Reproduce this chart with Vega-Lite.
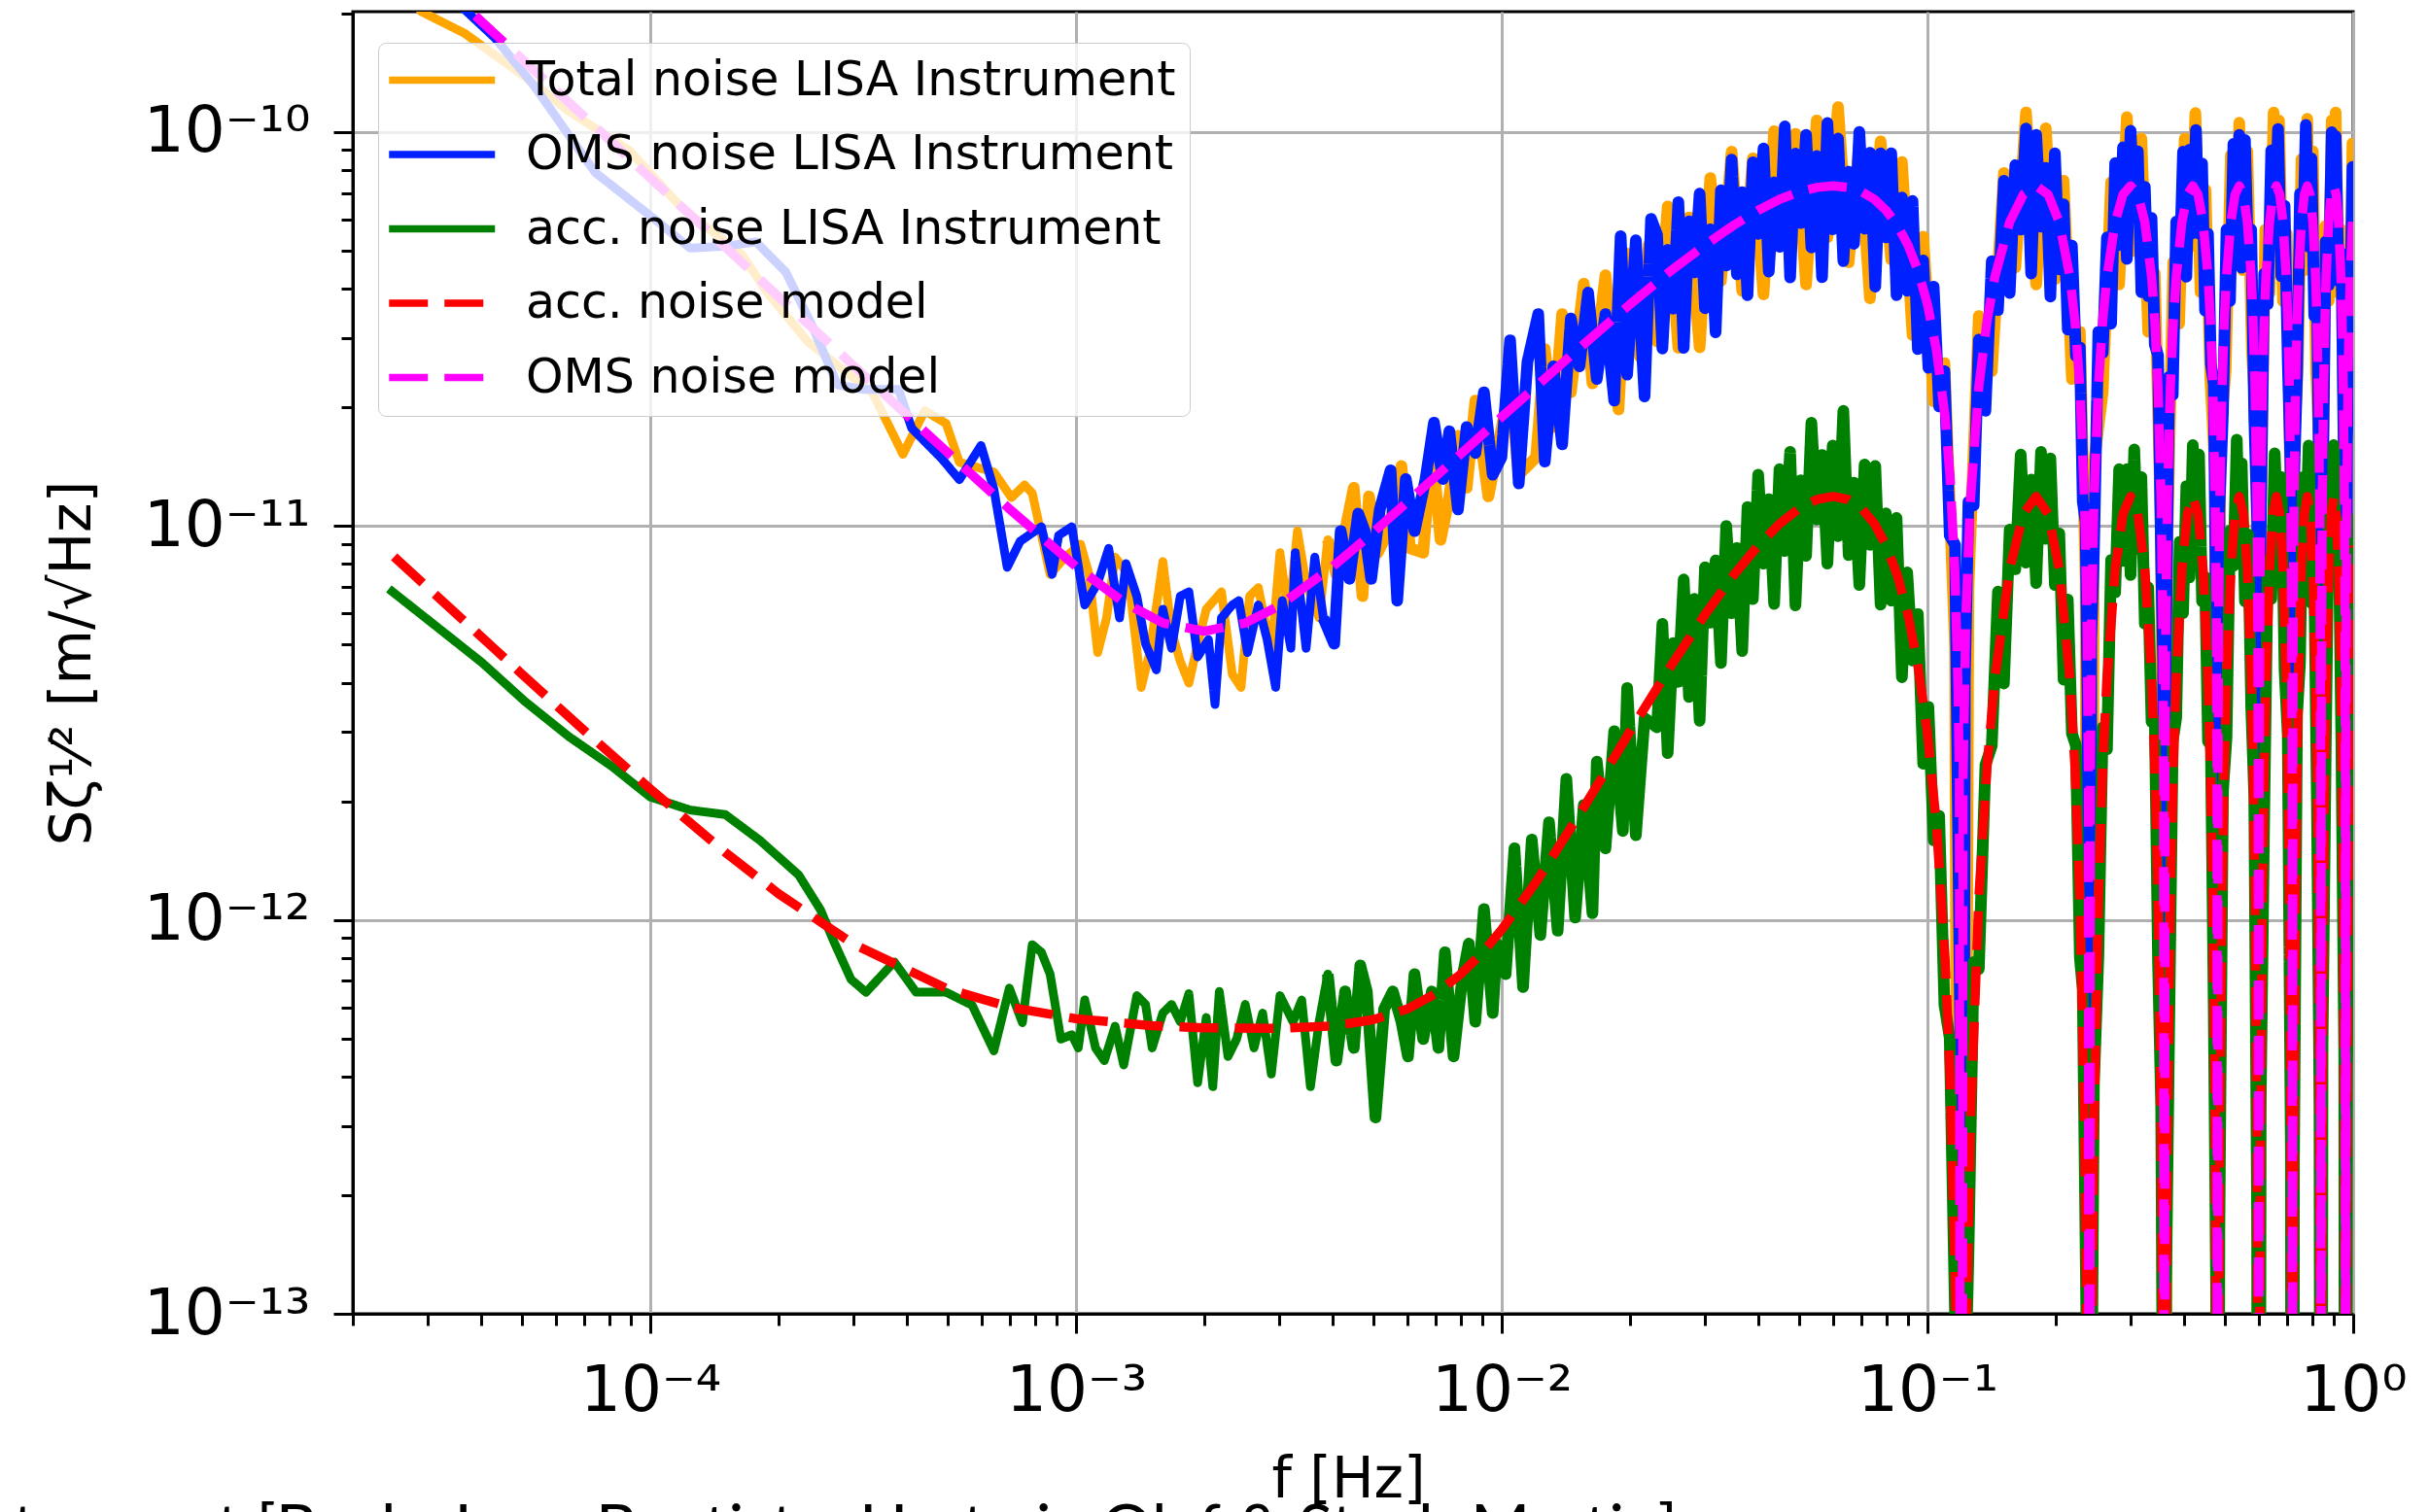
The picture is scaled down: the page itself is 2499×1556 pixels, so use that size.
{
"$schema":"https://vega.github.io/schema/vega-lite/v6.json",
"width":2058,"height":1340,
"autosize":{"type":"none"},
"padding":{"left":363,"top":12,"right":78,"bottom":204},
"background":"white",
"title":{"text":"LISA Instrument [Bayle Jean-Baptiste, Hartwig Olaf & Staab Martin]","orient":"bottom","anchor":"start","frame":"group","baseline":"top","offset":-9,"dx":-580,"fontSize":66,"font":"Lato","fontWeight":"normal","color":"black"},
"config":{
 "font":"DejaVu Sans",
 "view":{"stroke":"black","strokeWidth":3},
 "axis":{"domainColor":"black","domainWidth":3,"tickColor":"black","tickWidth":3,"labelFont":"DejaVu Sans","labelFontSize":66,"labelColor":"black","titleFont":"DejaVu Sans","titleFontSize":58,"titleFontWeight":"normal","titleColor":"black","gridColor":"#b0b0b0","gridWidth":3,"labelOverlap":false,"labelBound":false,"labelFlush":false}
},
"data":{"values":[
{"s":"T","f":2.5e-5,"v":2.45e-10},{"s":"T","f":2.9e-5,"v":2.02e-10},{"s":"T","f":3.66e-5,"v":1.78e-10},{"s":"T","f":5.08e-5,"v":1.38e-10},{"s":"T","f":6.43e-5,"v":1.13e-10},{"s":"T","f":8.93e-5,"v":8.97e-11},{"s":"T","f":1.18e-4,"v":6.45e-11},{"s":"T","f":1.64e-4,"v":4.88e-11},{"s":"T","f":1.89e-4,"v":3.89e-11},{"s":"T","f":2.34e-4,"v":2.94e-11},{"s":"T","f":3.33e-4,"v":2.17e-11},{"s":"T","f":3.92e-4,"v":1.52e-11},{"s":"T","f":4.41e-4,"v":1.96e-11},{"s":"T","f":4.95e-4,"v":1.82e-11},{"s":"T","f":5.32e-4,"v":1.45e-11},{"s":"T","f":6.41e-4,"v":1.37e-11},{"s":"T","f":7.05e-4,"v":1.18e-11},{"s":"T","f":7.57e-4,"v":1.27e-11},{"s":"T","f":7.89e-4,"v":1.21e-11},
{"s":"T","f":8.69e-4,"v":7.53e-12},{"s":"T","f":9.43e-4,"v":8.33e-12},{"s":"T","f":1.024e-3,"v":8.99e-12},{"s":"T","f":1.073e-3,"v":7.53e-12},{"s":"T","f":1.124e-3,"v":4.77e-12},{"s":"T","f":1.179e-3,"v":5.84e-12},{"s":"T","f":1.235e-3,"v":8.33e-12},{"s":"T","f":1.326e-3,"v":7.53e-12},{"s":"T","f":1.422e-3,"v":3.89e-12},{"s":"T","f":1.49e-3,"v":4.77e-12},{"s":"T","f":1.599e-3,"v":8.12e-12},{"s":"T","f":1.676e-3,"v":5.41e-12},{"s":"T","f":1.757e-3,"v":4.53e-12},{"s":"T","f":1.841e-3,"v":3.99e-12},{"s":"T","f":1.93e-3,"v":5.02e-12},{"s":"T","f":2.022e-3,"v":6.14e-12},{"s":"T","f":2.195e-3,"v":6.8e-12},{"s":"T","f":2.328e-3,"v":4.2e-12},{"s":"T","f":2.44e-3,"v":3.89e-12},{"s":"T","f":2.557e-3,"v":6.63e-12},{"s":"T","f":2.68e-3,"v":6.97e-12},{"s":"T","f":2.875e-3,"v":4.77e-12},{"s":"T","f":3.013e-3,"v":8.55e-12},{"s":"T","f":3.158e-3,"v":5.84e-12},{"s":"T","f":3.311e-3,"v":9.7e-12},{"s":"T","f":3.47e-3,"v":7.16e-12},{"s":"T","f":3.723e-3,"v":5.84e-12},{"s":"T","f":3.902e-3,"v":9.22e-12},{"s":"T","f":4.088e-3,"v":7.53e-12},{"s":"T","f":4.491e-3,"v":1.25e-11},{"s":"T","f":4.707e-3,"v":6.63e-12},{"s":"T","f":4.876e-3,"v":1.188e-11},{"s":"T","f":5.11e-3,"v":8.55e-12},{"s":"T","f":5.42e-3,"v":9.7e-12},{"s":"T","f":5.81e-3,"v":1.419e-11},{"s":"T","f":6.09e-3,"v":8.77e-12},{"s":"T","f":6.54e-3,"v":8.55e-12},{"s":"T","f":6.85e-3,"v":1.611e-11},{"s":"T","f":7.18e-3,"v":9.22e-12},{"s":"T","f":7.53e-3,"v":1.188e-11},{"s":"T","f":7.89e-3,"v":1.694e-11},{"s":"T","f":8.27e-3,"v":1.25e-11},{"s":"T","f":8.67e-3,"v":2.08e-11},{"s":"T","f":9.3e-3,"v":1.188e-11},{"s":"T","f":9.74e-3,"v":1.531e-11},{"s":"T","f":1.046e-2,"v":2.3e-11},{"s":"T","f":1.096e-2,"v":1.349e-11},{"s":"T","f":1.204e-2,"v":1.493e-11},{"s":"T","f":1.262e-2,"v":2.81e-11},{"s":"T","f":1.322e-2,"v":1.782e-11},{"s":"T","f":1.386e-2,"v":3.45e-11},{"s":"T","f":1.453e-2,"v":2.184e-11},{"s":"T","f":1.558e-2,"v":4.12e-11},{"s":"T","f":1.633e-2,"v":2.3e-11},{"s":"T","f":1.752e-2,"v":4.33e-11},{"s":"T","f":1.88e-2,"v":1.974e-11},{"s":"T","f":1.97e-2,"v":4.91e-11},{"s":"T","f":2.113e-2,"v":2.68e-11},{"s":"T","f":2.215e-2,"v":5.17e-11},
{"s":"T","f":0.02316,"v":2.94e-11},{"s":"T","f":0.02453,"v":6.47e-11},{"s":"T","f":0.02599,"v":2.83e-11},{"s":"T","f":0.02753,"v":6.07e-11},{"s":"T","f":0.02916,"v":2.84e-11},{"s":"T","f":0.03089,"v":7.64e-11},{"s":"T","f":0.03272,"v":4.19e-11},{"s":"T","f":0.03466,"v":8.91e-11},{"s":"T","f":0.03671,"v":3.95e-11},{"s":"T","f":0.03889,"v":8.57e-11},{"s":"T","f":0.04119,"v":3.87e-11},{"s":"T","f":0.04363,"v":1.005e-10},{"s":"T","f":0.04622,"v":5.42e-11},{"s":"T","f":0.04896,"v":9.89e-11},{"s":"T","f":0.05186,"v":4.1e-11},{"s":"T","f":0.05493,"v":1.069e-10},{"s":"T","f":0.05819,"v":5.41e-11},{"s":"T","f":0.06164,"v":1.156e-10},{"s":"T","f":0.06529,"v":4.67e-11},{"s":"T","f":0.06916,"v":9.35e-11},{"s":"T","f":0.07326,"v":3.78e-11},{"s":"T","f":0.0776,"v":9.46e-11},{"s":"T","f":0.0822,"v":4.74e-11},{"s":"T","f":0.08707,"v":8.39e-11},{"s":"T","f":0.09223,"v":3.05e-11},{"s":"T","f":0.0977,"v":5.42e-11},{"s":"T","f":0.1034,"v":2.07e-11},{"s":"T","f":0.1096,"v":2.59e-11},{"s":"T","f":0.1161,"v":4.92e-12},{"s":"T","f":0.12,"v":1e-16},
{"s":"T","f":0.1248,"v":6.93e-12},{"s":"T","f":0.132,"v":3.41e-11},{"s":"T","f":0.1416,"v":2.47e-11},{"s":"T","f":0.1512,"v":7.87e-11},{"s":"T","f":0.1608,"v":4.53e-11},{"s":"T","f":0.1704,"v":1.12e-10},{"s":"T","f":0.18,"v":4.1e-11},{"s":"T","f":0.1896,"v":1.022e-10},{"s":"T","f":0.1992,"v":4.23e-11},{"s":"T","f":0.2088,"v":7.52e-11},{"s":"T","f":0.2184,"v":2.36e-11},{"s":"T","f":0.228,"v":3.11e-11},{"s":"T","f":0.2352,"v":7.26e-12},{"s":"T","f":0.24,"v":1e-16},
{"s":"T","f":0.246,"v":1.436e-11},{"s":"T","f":0.258,"v":2.19e-11},{"s":"T","f":0.27,"v":7.46e-11},{"s":"T","f":0.282,"v":4.1e-11},{"s":"T","f":0.294,"v":1.091e-10},{"s":"T","f":0.306,"v":4.99e-11},{"s":"T","f":0.318,"v":9.62e-11},{"s":"T","f":0.33,"v":3.11e-11},{"s":"T","f":0.342,"v":4.37e-11},{"s":"T","f":0.354,"v":9.06e-12},{"s":"T","f":0.36,"v":1e-16},
{"s":"T","f":0.366,"v":9.06e-12},{"s":"T","f":0.378,"v":4.68e-11},{"s":"T","f":0.39,"v":3.26e-11},{"s":"T","f":0.402,"v":9.62e-11},{"s":"T","f":0.414,"v":5.11e-11},{"s":"T","f":0.426,"v":1.117e-10},{"s":"T","f":0.438,"v":3.92e-11},{"s":"T","f":0.45,"v":7.13e-11},{"s":"T","f":0.462,"v":2.34e-11},{"s":"T","f":0.474,"v":1.371e-11},{"s":"T","f":0.48,"v":1e-16},
{"s":"T","f":0.4872,"v":1.722e-11},{"s":"T","f":0.5016,"v":2.47e-11},{"s":"T","f":0.516,"v":8.73e-11},{"s":"T","f":0.5304,"v":4.67e-11},{"s":"T","f":0.54,"v":1.055e-10},{"s":"T","f":0.5496,"v":4.46e-11},{"s":"T","f":0.564,"v":8.93e-11},{"s":"T","f":0.5784,"v":2.77e-11},{"s":"T","f":0.5928,"v":1.722e-11},{"s":"T","f":0.6,"v":1e-16},
{"s":"T","f":0.6072,"v":1.087e-11},{"s":"T","f":0.6216,"v":5.65e-11},{"s":"T","f":0.636,"v":3.9e-11},{"s":"T","f":0.6504,"v":1.12e-10},{"s":"T","f":0.66,"v":5.17e-11},{"s":"T","f":0.6696,"v":1.07e-10},{"s":"T","f":0.684,"v":3.72e-11},{"s":"T","f":0.6984,"v":5.52e-11},{"s":"T","f":0.7128,"v":1.087e-11},{"s":"T","f":0.72,"v":1e-16},
{"s":"T","f":0.7272,"v":1.645e-11},{"s":"T","f":0.7416,"v":2.58e-11},{"s":"T","f":0.756,"v":8.53e-11},{"s":"T","f":0.7704,"v":4.46e-11},{"s":"T","f":0.78,"v":1.08e-10},{"s":"T","f":0.7896,"v":4.89e-11},{"s":"T","f":0.804,"v":8.93e-11},{"s":"T","f":0.8184,"v":2.47e-11},{"s":"T","f":0.8328,"v":1.535e-11},{"s":"T","f":0.84,"v":1e-16},
{"s":"T","f":0.8472,"v":1.138e-11},{"s":"T","f":0.8616,"v":5.78e-11},{"s":"T","f":0.876,"v":3.72e-11},{"s":"T","f":0.8904,"v":1.07e-10},{"s":"T","f":0.9,"v":5.17e-11},{"s":"T","f":0.9096,"v":1.12e-10},{"s":"T","f":0.924,"v":3.9e-11},{"s":"T","f":0.9384,"v":5.65e-11},{"s":"T","f":0.9528,"v":1.087e-11},{"s":"T","f":0.96,"v":1e-16},
{"s":"T","f":0.9672,"v":1.722e-11},{"s":"T","f":0.9816,"v":2.58e-11},{"s":"T","f":0.996,"v":9.36e-11},{"s":"T","f":1.0,"v":5.02e-11},

{"s":"O","f":3.0e-5,"v":2.5e-10},{"s":"O","f":4.32e-5,"v":1.73e-10},{"s":"O","f":5.33e-5,"v":1.31e-10},{"s":"O","f":7.41e-5,"v":7.9e-11},{"s":"O","f":1.03e-4,"v":5.97e-11},{"s":"O","f":1.24e-4,"v":5.07e-11},{"s":"O","f":1.5e-4,"v":5.13e-11},{"s":"O","f":1.77e-4,"v":5.26e-11},{"s":"O","f":2.08e-4,"v":4.41e-11},{"s":"O","f":2.39e-4,"v":3.25e-11},{"s":"O","f":2.75e-4,"v":2.28e-11},{"s":"O","f":3.17e-4,"v":2.22e-11},{"s":"O","f":3.83e-4,"v":2.22e-11},{"s":"O","f":4.11e-4,"v":1.77e-11},{"s":"O","f":4.84e-4,"v":1.48e-11},{"s":"O","f":5.32e-4,"v":1.31e-11},{"s":"O","f":5.98e-4,"v":1.6e-11},{"s":"O","f":6.41e-4,"v":1.24e-11},{"s":"O","f":6.89e-4,"v":7.85e-12},{"s":"O","f":7.39e-4,"v":9.14e-12},{"s":"O","f":7.89e-4,"v":9.6e-12},
{"s":"O","f":8.29e-4,"v":9.95e-12},{"s":"O","f":8.79e-4,"v":7.53e-12},{"s":"O","f":9.1e-4,"v":9.46e-12},{"s":"O","f":9.77e-4,"v":9.95e-12},{"s":"O","f":1.048e-3,"v":6.3e-12},{"s":"O","f":1.124e-3,"v":7.16e-12},{"s":"O","f":1.193e-3,"v":8.77e-12},{"s":"O","f":1.265e-3,"v":5.84e-12},{"s":"O","f":1.31e-3,"v":8.02e-12},{"s":"O","f":1.389e-3,"v":6.63e-12},{"s":"O","f":1.456e-3,"v":5.02e-12},{"s":"O","f":1.544e-3,"v":4.31e-12},{"s":"O","f":1.599e-3,"v":6.14e-12},{"s":"O","f":1.676e-3,"v":4.89e-12},{"s":"O","f":1.757e-3,"v":6.63e-12},{"s":"O","f":1.841e-3,"v":6.8e-12},{"s":"O","f":1.93e-3,"v":4.65e-12},{"s":"O","f":2.046e-3,"v":5.15e-12},{"s":"O","f":2.12e-3,"v":3.52e-12},{"s":"O","f":2.195e-3,"v":5.84e-12},{"s":"O","f":2.328e-3,"v":6.3e-12},{"s":"O","f":2.412e-3,"v":6.46e-12},{"s":"O","f":2.527e-3,"v":4.77e-12},{"s":"O","f":2.68e-3,"v":6.3e-12},{"s":"O","f":2.81e-3,"v":5.15e-12},{"s":"O","f":2.943e-3,"v":3.89e-12},{"s":"O","f":3.05e-3,"v":6.46e-12},{"s":"O","f":3.196e-3,"v":4.89e-12},{"s":"O","f":3.272e-3,"v":8.55e-12},{"s":"O","f":3.47e-3,"v":4.89e-12},{"s":"O","f":3.637e-3,"v":8.33e-12},{"s":"O","f":3.81e-3,"v":5.84e-12},{"s":"O","f":4.04e-3,"v":5.02e-12},{"s":"O","f":4.184e-3,"v":9.7e-12},{"s":"O","f":4.386e-3,"v":7.34e-12},{"s":"O","f":4.6e-3,"v":1.074e-11},{"s":"O","f":4.764e-3,"v":9.7e-12},{"s":"O","f":4.934e-3,"v":7.34e-12},{"s":"O","f":5.17e-3,"v":1.101e-11},{"s":"O","f":5.48e-3,"v":1.384e-11},{"s":"O","f":5.68e-3,"v":6.46e-12},{"s":"O","f":5.95e-3,"v":1.315e-11},{"s":"O","f":6.24e-3,"v":9.7e-12},{"s":"O","f":6.62e-3,"v":1.315e-11},{"s":"O","f":6.93e-3,"v":1.829e-11},{"s":"O","f":7.27e-3,"v":1.315e-11},{"s":"O","f":7.53e-3,"v":1.738e-11},{"s":"O","f":7.89e-3,"v":1.101e-11},{"s":"O","f":8.27e-3,"v":1.782e-11},{"s":"O","f":8.67e-3,"v":1.531e-11},{"s":"O","f":9.08e-3,"v":2.184e-11},{"s":"O","f":9.52e-3,"v":1.349e-11},{"s":"O","f":9.98e-3,"v":1.493e-11},{"s":"O","f":1.046e-2,"v":2.96e-11},{"s":"O","f":1.096e-2,"v":1.282e-11},{"s":"O","f":1.149e-2,"v":2.61e-11},{"s":"O","f":1.218e-2,"v":3.45e-11},{"s":"O","f":1.262e-2,"v":1.456e-11},{"s":"O","f":1.322e-2,"v":2.54e-11},{"s":"O","f":1.386e-2,"v":1.61e-11},{"s":"O","f":1.453e-2,"v":3.36e-11},{"s":"O","f":1.522e-2,"v":2.54e-11},{"s":"O","f":1.595e-2,"v":3.91e-11},{"s":"O","f":1.672e-2,"v":2.36e-11},{"s":"O","f":1.752e-2,"v":3.45e-11},{"s":"O","f":1.837e-2,"v":2.08e-11},{"s":"O","f":1.902e-2,"v":5.44e-11},{"s":"O","f":1.97e-2,"v":2.42e-11},{"s":"O","f":2.065e-2,"v":5.31e-11},{"s":"O","f":2.165e-2,"v":2.13e-11},{"s":"O","f":2.242e-2,"v":6.02e-11},
{"s":"O","f":0.02316,"v":5.48e-11},{"s":"O","f":0.02384,"v":2.82e-11},{"s":"O","f":0.02453,"v":5.02e-11},{"s":"O","f":0.02525,"v":3.56e-11},{"s":"O","f":0.02599,"v":6.64e-11},{"s":"O","f":0.02675,"v":2.83e-11},{"s":"O","f":0.02753,"v":5.93e-11},{"s":"O","f":0.02833,"v":4.4e-11},{"s":"O","f":0.02916,"v":6.97e-11},{"s":"O","f":0.03001,"v":3.57e-11},{"s":"O","f":0.03089,"v":5.66e-11},{"s":"O","f":0.03179,"v":3.1e-11},{"s":"O","f":0.03272,"v":7.11e-11},{"s":"O","f":0.03367,"v":4.58e-11},{"s":"O","f":0.03466,"v":8.51e-11},{"s":"O","f":0.03567,"v":4.35e-11},{"s":"O","f":0.03671,"v":7.03e-11},{"s":"O","f":0.03778,"v":3.85e-11},{"s":"O","f":0.03889,"v":8.38e-11},{"s":"O","f":0.04002,"v":5.51e-11},{"s":"O","f":0.04119,"v":9.08e-11},{"s":"O","f":0.04239,"v":4.42e-11},{"s":"O","f":0.04363,"v":7.45e-11},{"s":"O","f":0.04491,"v":5.11e-11},{"s":"O","f":0.04622,"v":1.033e-10},{"s":"O","f":0.04757,"v":4.27e-11},{"s":"O","f":0.04896,"v":8.81e-11},{"s":"O","f":0.05039,"v":5.87e-11},{"s":"O","f":0.05186,"v":9.84e-11},{"s":"O","f":0.05337,"v":5.09e-11},{"s":"O","f":0.05493,"v":8.69e-11},{"s":"O","f":0.05654,"v":4.28e-11},{"s":"O","f":0.05819,"v":1.054e-10},{"s":"O","f":0.05989,"v":5.66e-11},{"s":"O","f":0.06164,"v":9.62e-11},{"s":"O","f":0.06344,"v":4.7e-11},{"s":"O","f":0.06529,"v":7.93e-11},{"s":"O","f":0.0672,"v":5.2e-11},{"s":"O","f":0.06916,"v":1.0e-10},{"s":"O","f":0.07118,"v":5.68e-11},{"s":"O","f":0.07326,"v":8.85e-11},{"s":"O","f":0.0754,"v":4.05e-11},{"s":"O","f":0.0776,"v":8.83e-11},{"s":"O","f":0.07987,"v":5.4e-11},{"s":"O","f":0.0822,"v":8.83e-11},{"s":"O","f":0.0846,"v":3.85e-11},{"s":"O","f":0.08707,"v":6.82e-11},{"s":"O","f":0.08961,"v":3.95e-11},{"s":"O","f":0.09223,"v":6.68e-11},{"s":"O","f":0.09492,"v":2.81e-11},{"s":"O","f":0.0977,"v":4.72e-11},{"s":"O","f":0.1005,"v":2.52e-11},{"s":"O","f":0.1034,"v":4.05e-11},{"s":"O","f":0.1065,"v":2.01e-11},{"s":"O","f":0.1096,"v":2.47e-11},{"s":"O","f":0.1128,"v":9.46e-12},{"s":"O","f":0.1161,"v":8.95e-12},{"s":"O","f":0.1195,"v":4.79e-13},{"s":"O","f":0.12,"v":1e-16},
{"s":"O","f":0.1224,"v":4.08e-12},{"s":"O","f":0.1248,"v":1.151e-11},{"s":"O","f":0.1284,"v":1.127e-11},{"s":"O","f":0.132,"v":2.97e-11},{"s":"O","f":0.1368,"v":1.96e-11},{"s":"O","f":0.1416,"v":4.7e-11},{"s":"O","f":0.1464,"v":3.53e-11},{"s":"O","f":0.1512,"v":7.52e-11},{"s":"O","f":0.156,"v":3.9e-11},{"s":"O","f":0.1608,"v":8.24e-11},{"s":"O","f":0.1656,"v":5.65e-11},{"s":"O","f":0.1704,"v":1.021e-10},{"s":"O","f":0.1752,"v":4.37e-11},{"s":"O","f":0.18,"v":9.84e-11},{"s":"O","f":0.1848,"v":5.75e-11},{"s":"O","f":0.1896,"v":8.11e-11},{"s":"O","f":0.1944,"v":3.82e-11},{"s":"O","f":0.1992,"v":8.83e-11},{"s":"O","f":0.204,"v":4.48e-11},{"s":"O","f":0.2088,"v":6.55e-11},{"s":"O","f":0.2136,"v":3.15e-11},{"s":"O","f":0.2184,"v":5.15e-11},{"s":"O","f":0.2232,"v":2.7e-11},{"s":"O","f":0.228,"v":2.84e-11},{"s":"O","f":0.2316,"v":1.153e-11},{"s":"O","f":0.2352,"v":1.026e-11},{"s":"O","f":0.2376,"v":3.64e-12},{"s":"O","f":0.24,"v":1e-16},
{"s":"O","f":0.2424,"v":5.14e-12},{"s":"O","f":0.246,"v":8.65e-12},{"s":"O","f":0.252,"v":3.11e-11},{"s":"O","f":0.258,"v":2.75e-11},{"s":"O","f":0.264,"v":5.4e-11},{"s":"O","f":0.27,"v":3.26e-11},{"s":"O","f":0.276,"v":8.34e-11},{"s":"O","f":0.282,"v":5.16e-11},{"s":"O","f":0.288,"v":9.14e-11},{"s":"O","f":0.294,"v":4.76e-11},{"s":"O","f":0.3,"v":1.007e-10},{"s":"O","f":0.306,"v":6.14e-11},{"s":"O","f":0.312,"v":8.93e-11},{"s":"O","f":0.318,"v":3.92e-11},{"s":"O","f":0.324,"v":7.26e-11},{"s":"O","f":0.33,"v":3.83e-11},{"s":"O","f":0.336,"v":6.05e-11},{"s":"O","f":0.342,"v":2.88e-11},{"s":"O","f":0.348,"v":2.71e-11},{"s":"O","f":0.354,"v":8.07e-12},{"s":"O","f":0.3576,"v":4.58e-12},{"s":"O","f":0.36,"v":1e-16},
{"s":"O","f":0.3636,"v":5.46e-12},{"s":"O","f":0.3696,"v":2.39e-11},{"s":"O","f":0.3768,"v":2.15e-11},{"s":"O","f":0.384,"v":5.92e-11},{"s":"O","f":0.3912,"v":4.53e-11},{"s":"O","f":0.3984,"v":8.91e-11},{"s":"O","f":0.4056,"v":4.29e-11},{"s":"O","f":0.4128,"v":9.02e-11},{"s":"O","f":0.42,"v":5.53e-11},{"s":"O","f":0.4272,"v":1.012e-10},{"s":"O","f":0.4344,"v":5.52e-11},{"s":"O","f":0.4416,"v":8.32e-11},{"s":"O","f":0.4488,"v":3.52e-11},{"s":"O","f":0.456,"v":5.52e-11},{"s":"O","f":0.4632,"v":2.58e-11},{"s":"O","f":0.4704,"v":2.29e-11},{"s":"O","f":0.4764,"v":5.46e-12},{"s":"O","f":0.48,"v":1e-16},
{"s":"O","f":0.4848,"v":1.099e-11},{"s":"O","f":0.4944,"v":1.945e-11},{"s":"O","f":0.504,"v":5.65e-11},{"s":"O","f":0.5136,"v":3.72e-11},{"s":"O","f":0.5232,"v":9.33e-11},{"s":"O","f":0.5328,"v":5.69e-11},{"s":"O","f":0.54,"v":9.84e-11},{"s":"O","f":0.5472,"v":4.52e-11},{"s":"O","f":0.5568,"v":9.55e-11},{"s":"O","f":0.5664,"v":4.68e-11},{"s":"O","f":0.576,"v":5.65e-11},{"s":"O","f":0.5856,"v":1.901e-11},{"s":"O","f":0.5952,"v":1.026e-11},{"s":"O","f":0.6,"v":1e-16},
{"s":"O","f":0.606,"v":9.49e-12},{"s":"O","f":0.618,"v":4.37e-11},{"s":"O","f":0.63,"v":3.66e-11},{"s":"O","f":0.642,"v":8.98e-11},{"s":"O","f":0.654,"v":5.47e-11},{"s":"O","f":0.666,"v":1.018e-10},{"s":"O","f":0.678,"v":4.3e-11},{"s":"O","f":0.69,"v":6.5e-11},{"s":"O","f":0.702,"v":2.63e-11},{"s":"O","f":0.714,"v":1.31e-11},{"s":"O","f":0.72,"v":1e-16},
{"s":"O","f":0.726,"v":1.31e-11},{"s":"O","f":0.738,"v":2.4e-11},{"s":"O","f":0.75,"v":6.97e-11},{"s":"O","f":0.762,"v":5.16e-11},{"s":"O","f":0.774,"v":1.042e-10},{"s":"O","f":0.786,"v":5.11e-11},{"s":"O","f":0.798,"v":8.57e-11},{"s":"O","f":0.81,"v":3.41e-11},{"s":"O","f":0.822,"v":4.17e-11},{"s":"O","f":0.834,"v":9.49e-12},{"s":"O","f":0.84,"v":1e-16},
{"s":"O","f":0.8472,"v":1.087e-11},{"s":"O","f":0.8616,"v":5.27e-11},{"s":"O","f":0.876,"v":4.08e-11},{"s":"O","f":0.8904,"v":9.99e-11},{"s":"O","f":0.9,"v":5.53e-11},{"s":"O","f":0.9096,"v":9.76e-11},{"s":"O","f":0.924,"v":4.18e-11},{"s":"O","f":0.9384,"v":4.92e-11},{"s":"O","f":0.9528,"v":1.219e-11},{"s":"O","f":0.96,"v":1e-16},
{"s":"O","f":0.9672,"v":1.645e-11},{"s":"O","f":0.9816,"v":2.97e-11},{"s":"O","f":0.996,"v":8.15e-11},{"s":"O","f":1.0,"v":5.63e-11},

{"s":"A","f":2.43e-5,"v":6.92e-12},{"s":"A","f":3.18e-5,"v":5.5e-12},{"s":"A","f":4.02e-5,"v":4.5e-12},{"s":"A","f":5.08e-5,"v":3.58e-12},{"s":"A","f":6.43e-5,"v":2.92e-12},{"s":"A","f":8.13e-5,"v":2.45e-12},{"s":"A","f":1e-4,"v":2.05e-12},{"s":"A","f":1.24e-4,"v":1.9e-12},{"s":"A","f":1.5e-4,"v":1.85e-12},{"s":"A","f":1.81e-4,"v":1.59e-12},{"s":"A","f":2.23e-4,"v":1.3e-12},{"s":"A","f":2.51e-4,"v":1.06e-12},{"s":"A","f":2.69e-4,"v":8.87e-13},{"s":"A","f":2.96e-4,"v":7.06e-13},{"s":"A","f":3.21e-4,"v":6.55e-13},{"s":"A","f":3.74e-4,"v":7.82e-13},{"s":"A","f":4.21e-4,"v":6.55e-13},{"s":"A","f":4.95e-4,"v":6.55e-13},{"s":"A","f":5.7e-4,"v":6.07e-13},{"s":"A","f":6.41e-4,"v":4.65e-13},{"s":"A","f":6.97e-4,"v":6.71e-13},{"s":"A","f":7.48e-4,"v":5.48e-13},{"s":"A","f":7.89e-4,"v":8.65e-13},
{"s":"A","f":8.29e-4,"v":8.27e-13},{"s":"A","f":8.69e-4,"v":7.28e-13},{"s":"A","f":9.21e-4,"v":4.98e-13},{"s":"A","f":9.77e-4,"v":5.11e-13},{"s":"A","f":1.012e-3,"v":4.73e-13},{"s":"A","f":1.048e-3,"v":6.26e-13},{"s":"A","f":1.111e-3,"v":4.73e-13},{"s":"A","f":1.165e-3,"v":4.39e-13},{"s":"A","f":1.235e-3,"v":5.37e-13},{"s":"A","f":1.294e-3,"v":4.28e-13},{"s":"A","f":1.389e-3,"v":6.42e-13},{"s":"A","f":1.456e-3,"v":6.1e-13},{"s":"A","f":1.509e-3,"v":4.73e-13},{"s":"A","f":1.599e-3,"v":5.8e-13},{"s":"A","f":1.676e-3,"v":6.1e-13},{"s":"A","f":1.757e-3,"v":5.51e-13},{"s":"A","f":1.841e-3,"v":6.5e-13},{"s":"A","f":1.93e-3,"v":3.86e-13},{"s":"A","f":2.022e-3,"v":5.65e-13},{"s":"A","f":2.095e-3,"v":3.77e-13},{"s":"A","f":2.17e-3,"v":6.58e-13},{"s":"A","f":2.274e-3,"v":4.5e-13},{"s":"A","f":2.383e-3,"v":4.98e-13},{"s":"A","f":2.497e-3,"v":6.1e-13},{"s":"A","f":2.618e-3,"v":4.73e-13},{"s":"A","f":2.743e-3,"v":5.8e-13},{"s":"A","f":2.875e-3,"v":4.06e-13},{"s":"A","f":3.013e-3,"v":6.42e-13},{"s":"A","f":3.233e-3,"v":5.51e-13},{"s":"A","f":3.389e-3,"v":6.26e-13},{"s":"A","f":3.552e-3,"v":3.77e-13},{"s":"A","f":3.723e-3,"v":5.51e-13},{"s":"A","f":3.902e-3,"v":7.28e-13},{"s":"A","f":4.088e-3,"v":4.39e-13},{"s":"A","f":4.285e-3,"v":6.58e-13},{"s":"A","f":4.491e-3,"v":4.73e-13},{"s":"A","f":4.652e-3,"v":7.66e-13},{"s":"A","f":4.819e-3,"v":6.58e-13},{"s":"A","f":5.05e-3,"v":3.15e-13},{"s":"A","f":5.293e-3,"v":5.94e-13},{"s":"A","f":5.547e-3,"v":6.58e-13},{"s":"A","f":5.813e-3,"v":5.51e-13},{"s":"A","f":6.021e-3,"v":4.5e-13},{"s":"A","f":6.237e-3,"v":7.28e-13},{"s":"A","f":6.537e-3,"v":4.98e-13},{"s":"A","f":6.851e-3,"v":6.58e-13},{"s":"A","f":7.097e-3,"v":4.73e-13},{"s":"A","f":7.352e-3,"v":8.27e-13},{"s":"A","f":7.705e-3,"v":4.5e-13},{"s":"A","f":8.075e-3,"v":7.1e-13},{"s":"A","f":8.364e-3,"v":8.7e-13},{"s":"A","f":8.665e-3,"v":5.51e-13},{"s":"A","f":9.08e-3,"v":1.065e-12},{"s":"A","f":9.52e-3,"v":5.8e-13},{"s":"A","f":9.74e-3,"v":8.7e-13},{"s":"A","f":1.021e-2,"v":7.28e-13},{"s":"A","f":1.071e-2,"v":1.519e-12},{"s":"A","f":1.122e-2,"v":6.75e-13},{"s":"A","f":1.176e-2,"v":1.598e-12},{"s":"A","f":1.232e-2,"v":9.15e-13},{"s":"A","f":1.291e-2,"v":1.769e-12},{"s":"A","f":1.353e-2,"v":9.38e-13},{"s":"A","f":1.418e-2,"v":2.28e-12},{"s":"A","f":1.487e-2,"v":1.013e-12},{"s":"A","f":1.558e-2,"v":1.957e-12},{"s":"A","f":1.633e-2,"v":1.039e-12},{"s":"A","f":1.672e-2,"v":2.52e-12},{"s":"A","f":1.752e-2,"v":1.519e-12},{"s":"A","f":1.837e-2,"v":3.01e-12},{"s":"A","f":1.925e-2,"v":1.681e-12},{"s":"A","f":1.97e-2,"v":3.88e-12},{"s":"A","f":2.065e-2,"v":1.639e-12},{"s":"A","f":2.165e-2,"v":3.25e-12},
{"s":"A","f":0.02316,"v":3.08e-12},{"s":"A","f":0.02384,"v":5.64e-12},{"s":"A","f":0.02453,"v":2.65e-12},{"s":"A","f":0.02525,"v":5.04e-12},{"s":"A","f":0.02599,"v":4.02e-12},{"s":"A","f":0.02675,"v":7.31e-12},{"s":"A","f":0.02753,"v":3.68e-12},{"s":"A","f":0.02833,"v":6.53e-12},{"s":"A","f":0.02916,"v":3.2e-12},{"s":"A","f":0.03001,"v":7.85e-12},{"s":"A","f":0.03089,"v":5.68e-12},{"s":"A","f":0.03179,"v":8.17e-12},{"s":"A","f":0.03272,"v":4.49e-12},{"s":"A","f":0.03367,"v":1.0e-11},{"s":"A","f":0.03466,"v":6.0e-12},{"s":"A","f":0.03567,"v":8.79e-12},{"s":"A","f":0.03671,"v":4.81e-12},{"s":"A","f":0.03778,"v":1.117e-11},{"s":"A","f":0.03889,"v":6.52e-12},{"s":"A","f":0.04002,"v":1.349e-11},{"s":"A","f":0.04119,"v":8.02e-12},{"s":"A","f":0.04239,"v":1.169e-11},{"s":"A","f":0.04363,"v":6.34e-12},{"s":"A","f":0.04491,"v":1.393e-11},{"s":"A","f":0.04622,"v":8.63e-12},{"s":"A","f":0.04757,"v":1.542e-11},{"s":"A","f":0.04896,"v":6.28e-12},{"s":"A","f":0.05039,"v":1.306e-11},{"s":"A","f":0.05186,"v":8.39e-12},{"s":"A","f":0.05337,"v":1.828e-11},{"s":"A","f":0.05493,"v":1.038e-11},{"s":"A","f":0.05654,"v":1.514e-11},{"s":"A","f":0.05819,"v":8.02e-12},{"s":"A","f":0.05989,"v":1.6e-11},{"s":"A","f":0.06164,"v":9.42e-12},{"s":"A","f":0.06344,"v":1.959e-11},{"s":"A","f":0.06529,"v":8.43e-12},{"s":"A","f":0.0672,"v":1.288e-11},{"s":"A","f":0.06916,"v":7.08e-12},{"s":"A","f":0.07118,"v":1.432e-11},{"s":"A","f":0.07326,"v":8.95e-12},{"s":"A","f":0.0754,"v":1.419e-11},{"s":"A","f":0.0776,"v":6.31e-12},{"s":"A","f":0.07987,"v":1.076e-11},{"s":"A","f":0.0822,"v":6.46e-12},{"s":"A","f":0.0846,"v":1.047e-11},{"s":"A","f":0.08707,"v":4.13e-12},{"s":"A","f":0.08961,"v":7.62e-12},{"s":"A","f":0.09223,"v":4.55e-12},{"s":"A","f":0.09492,"v":5.97e-12},{"s":"A","f":0.0977,"v":2.49e-12},{"s":"A","f":0.1005,"v":3.47e-12},{"s":"A","f":0.1034,"v":1.592e-12},{"s":"A","f":0.1065,"v":1.837e-12},{"s":"A","f":0.1096,"v":6.08e-13},{"s":"A","f":0.1128,"v":5.01e-13},{"s":"A","f":0.1161,"v":9.82e-14},{"s":"A","f":0.1195,"v":2e-15},{"s":"A","f":0.12,"v":1e-16},
{"s":"A","f":0.1224,"v":5.64e-14},{"s":"A","f":0.1248,"v":1.416e-13},{"s":"A","f":0.1284,"v":7.82e-13},{"s":"A","f":0.132,"v":7.5e-13},{"s":"A","f":0.1368,"v":2.47e-12},{"s":"A","f":0.1416,"v":2.77e-12},{"s":"A","f":0.1464,"v":6.81e-12},{"s":"A","f":0.1512,"v":3.98e-12},{"s":"A","f":0.156,"v":9.79e-12},{"s":"A","f":0.1608,"v":7.76e-12},{"s":"A","f":0.1656,"v":1.517e-11},{"s":"A","f":0.1704,"v":8.07e-12},{"s":"A","f":0.1752,"v":1.312e-11},{"s":"A","f":0.18,"v":7.16e-12},{"s":"A","f":0.1848,"v":1.542e-11},{"s":"A","f":0.1896,"v":9.27e-12},{"s":"A","f":0.1944,"v":1.483e-11},{"s":"A","f":0.1992,"v":7.08e-12},{"s":"A","f":0.204,"v":9.57e-12},{"s":"A","f":0.2088,"v":4.07e-12},{"s":"A","f":0.2136,"v":6.5e-12},{"s":"A","f":0.2184,"v":2.97e-12},{"s":"A","f":0.2232,"v":2.77e-12},{"s":"A","f":0.228,"v":8.04e-13},{"s":"A","f":0.2316,"v":6.65e-13},{"s":"A","f":0.2352,"v":1.483e-13},{"s":"A","f":0.2376,"v":5.26e-14},{"s":"A","f":0.24,"v":1e-16},
{"s":"A","f":0.2424,"v":3.9e-14},{"s":"A","f":0.246,"v":3.83e-13},{"s":"A","f":0.252,"v":8.04e-13},{"s":"A","f":0.258,"v":3.08e-12},{"s":"A","f":0.264,"v":2.71e-12},{"s":"A","f":0.27,"v":8.2e-12},{"s":"A","f":0.276,"v":6.78e-12},{"s":"A","f":0.282,"v":1.393e-11},{"s":"A","f":0.288,"v":8.15e-12},{"s":"A","f":0.294,"v":1.393e-11},{"s":"A","f":0.3,"v":7.5e-12},{"s":"A","f":0.306,"v":1.563e-11},{"s":"A","f":0.312,"v":8.73e-12},{"s":"A","f":0.318,"v":1.33e-11},{"s":"A","f":0.324,"v":5.64e-12},{"s":"A","f":0.33,"v":6.98e-12},{"s":"A","f":0.336,"v":3.18e-12},{"s":"A","f":0.342,"v":3.23e-12},{"s":"A","f":0.348,"v":7.85e-13},{"s":"A","f":0.354,"v":3.33e-13},{"s":"A","f":0.3576,"v":4.18e-14},{"s":"A","f":0.36,"v":1e-16},
{"s":"A","f":0.3636,"v":1.211e-13},{"s":"A","f":0.3696,"v":5.33e-13},{"s":"A","f":0.3768,"v":2.84e-12},{"s":"A","f":0.384,"v":3.26e-12},{"s":"A","f":0.3912,"v":9.12e-12},{"s":"A","f":0.3984,"v":6.0e-12},{"s":"A","f":0.4056,"v":1.262e-11},{"s":"A","f":0.4128,"v":7.4e-12},{"s":"A","f":0.42,"v":1.603e-11},{"s":"A","f":0.4272,"v":9.53e-12},{"s":"A","f":0.4344,"v":1.517e-11},{"s":"A","f":0.4416,"v":6.43e-12},{"s":"A","f":0.4488,"v":7.41e-12},{"s":"A","f":0.456,"v":2.84e-12},{"s":"A","f":0.4632,"v":2.77e-12},{"s":"A","f":0.4704,"v":5.98e-13},{"s":"A","f":0.4764,"v":1.183e-13},{"s":"A","f":0.48,"v":1e-16},
{"s":"A","f":0.4848,"v":1.626e-13},{"s":"A","f":0.4944,"v":2.12e-12},{"s":"A","f":0.504,"v":2.9e-12},{"s":"A","f":0.5136,"v":9.73e-12},{"s":"A","f":0.5232,"v":7.91e-12},{"s":"A","f":0.5328,"v":1.656e-11},{"s":"A","f":0.54,"v":9.02e-12},{"s":"A","f":0.5472,"v":1.442e-11},{"s":"A","f":0.5568,"v":6.43e-12},{"s":"A","f":0.5664,"v":9.51e-12},{"s":"A","f":0.576,"v":3.49e-12},{"s":"A","f":0.5856,"v":2.07e-12},{"s":"A","f":0.5952,"v":1.552e-13},{"s":"A","f":0.6,"v":1e-16},
{"s":"A","f":0.606,"v":3.26e-13},{"s":"A","f":0.618,"v":1.857e-12},{"s":"A","f":0.63,"v":8.2e-12},{"s":"A","f":0.642,"v":6.52e-12},{"s":"A","f":0.654,"v":1.528e-11},{"s":"A","f":0.666,"v":9.2e-12},{"s":"A","f":0.678,"v":1.33e-11},{"s":"A","f":0.69,"v":4.31e-12},{"s":"A","f":0.702,"v":2.94e-12},{"s":"A","f":0.714,"v":2.53e-13},{"s":"A","f":0.72,"v":1e-16},
{"s":"A","f":0.726,"v":2.47e-13},{"s":"A","f":0.738,"v":3.3e-12},{"s":"A","f":0.75,"v":4.51e-12},{"s":"A","f":0.762,"v":1.33e-11},{"s":"A","f":0.774,"v":9.42e-12},{"s":"A","f":0.786,"v":1.6e-11},{"s":"A","f":0.798,"v":6.37e-12},{"s":"A","f":0.81,"v":7.65e-12},{"s":"A","f":0.822,"v":1.945e-12},{"s":"A","f":0.834,"v":3.26e-13},{"s":"A","f":0.84,"v":1e-16},
{"s":"A","f":0.8472,"v":4.8e-13},{"s":"A","f":0.8616,"v":2.59e-12},{"s":"A","f":0.876,"v":1.099e-11},{"s":"A","f":0.8904,"v":8.85e-12},{"s":"A","f":0.9,"v":1.603e-11},{"s":"A","f":0.9096,"v":8.07e-12},{"s":"A","f":0.924,"v":1.025e-11},{"s":"A","f":0.9384,"v":2.77e-12},{"s":"A","f":0.9528,"v":4.58e-13},{"s":"A","f":0.96,"v":1e-16},
{"s":"A","f":0.9672,"v":3.72e-13},{"s":"A","f":0.9816,"v":4.6e-12},{"s":"A","f":0.996,"v":6.18e-12},{"s":"A","f":1.0,"v":1.071e-11},

{"s":"R","f":2.5e-5,"v":8.35e-12},{"s":"R","f":3e-5,"v":6.965e-12},{"s":"R","f":5e-5,"v":4.2e-12},{"s":"R","f":7e-5,"v":3.02e-12},{"s":"R","f":1e-4,"v":2.148e-12},{"s":"R","f":1.5e-4,"v":1.483e-12},{"s":"R","f":2e-4,"v":1.165e-12},{"s":"R","f":3e-4,"v":8.68e-13},{"s":"R","f":5e-4,"v":6.67e-13},{"s":"R","f":7e-4,"v":6.0e-13},{"s":"R","f":1e-3,"v":5.61e-13},{"s":"R","f":1.5e-3,"v":5.39e-13},{"s":"R","f":2e-3,"v":5.32e-13},{"s":"R","f":3e-3,"v":5.3e-13},{"s":"R","f":4e-3,"v":5.38e-13},{"s":"R","f":5e-3,"v":5.58e-13},{"s":"R","f":6e-3,"v":5.94e-13},{"s":"R","f":7e-3,"v":6.5e-13},{"s":"R","f":8e-3,"v":7.27e-13},{"s":"R","f":9e-3,"v":8.25e-13},{"s":"R","f":0.01,"v":9.45e-13},{"s":"R","f":0.012,"v":1.241e-12},{"s":"R","f":0.015,"v":1.807e-12},{"s":"R","f":0.0175,"v":2.37e-12},{"s":"R","f":0.02,"v":3.006e-12},
{"s":"R","f":0.025,"v":4.42e-12},{"s":"R","f":0.03,"v":5.95e-12},{"s":"R","f":0.035,"v":7.48e-12},{"s":"R","f":0.04,"v":8.91e-12},{"s":"R","f":0.045,"v":1.014e-11},{"s":"R","f":0.05,"v":1.108e-11},{"s":"R","f":0.055,"v":1.167e-11},{"s":"R","f":0.06,"v":1.1875e-11},{"s":"R","f":0.065,"v":1.167e-11},{"s":"R","f":0.07,"v":1.108e-11},{"s":"R","f":0.075,"v":1.014e-11},{"s":"R","f":0.08,"v":8.91e-12},{"s":"R","f":0.085,"v":7.48e-12},{"s":"R","f":0.09,"v":5.95e-12},{"s":"R","f":0.095,"v":4.4e-12},{"s":"R","f":0.1,"v":2.97e-12},{"s":"R","f":0.105,"v":1.739e-12},{"s":"R","f":0.11,"v":7.95e-13},{"s":"R","f":0.113,"v":3.94e-13},{"s":"R","f":0.116,"v":1.297e-13},{"s":"R","f":0.117,"v":7.32e-14},{"s":"R","f":0.1188,"v":1.171e-14},{"s":"R","f":0.12,"v":1e-16},
{"s":"R","f":0.1212,"v":1.171e-14},{"s":"R","f":0.123,"v":7.32e-14},{"s":"R","f":0.126,"v":2.905e-13},{"s":"R","f":0.132,"v":1.134e-12},{"s":"R","f":0.138,"v":2.448e-12},{"s":"R","f":0.144,"v":4.103e-12},{"s":"R","f":0.156,"v":7.772e-12},{"s":"R","f":0.168,"v":1.074e-11},{"s":"R","f":0.18,"v":1.1875e-11},{"s":"R","f":0.192,"v":1.074e-11},{"s":"R","f":0.204,"v":7.772e-12},{"s":"R","f":0.216,"v":4.103e-12},{"s":"R","f":0.222,"v":2.448e-12},{"s":"R","f":0.228,"v":1.134e-12},{"s":"R","f":0.234,"v":2.905e-13},{"s":"R","f":0.237,"v":7.32e-14},{"s":"R","f":0.2388,"v":1.171e-14},{"s":"R","f":0.24,"v":1e-16},
{"s":"R","f":0.2412,"v":1.171e-14},{"s":"R","f":0.243,"v":7.32e-14},{"s":"R","f":0.246,"v":2.905e-13},{"s":"R","f":0.252,"v":1.134e-12},{"s":"R","f":0.258,"v":2.448e-12},{"s":"R","f":0.264,"v":4.103e-12},{"s":"R","f":0.276,"v":7.772e-12},{"s":"R","f":0.288,"v":1.074e-11},{"s":"R","f":0.3,"v":1.1875e-11},{"s":"R","f":0.312,"v":1.074e-11},{"s":"R","f":0.324,"v":7.772e-12},{"s":"R","f":0.336,"v":4.103e-12},{"s":"R","f":0.342,"v":2.448e-12},{"s":"R","f":0.348,"v":1.134e-12},{"s":"R","f":0.354,"v":2.905e-13},{"s":"R","f":0.357,"v":7.32e-14},{"s":"R","f":0.3588,"v":1.171e-14},{"s":"R","f":0.36,"v":1e-16},
{"s":"R","f":0.3612,"v":1.171e-14},{"s":"R","f":0.363,"v":7.32e-14},{"s":"R","f":0.366,"v":2.905e-13},{"s":"R","f":0.372,"v":1.134e-12},{"s":"R","f":0.378,"v":2.448e-12},{"s":"R","f":0.384,"v":4.103e-12},{"s":"R","f":0.396,"v":7.772e-12},{"s":"R","f":0.408,"v":1.074e-11},{"s":"R","f":0.42,"v":1.1875e-11},{"s":"R","f":0.432,"v":1.074e-11},{"s":"R","f":0.444,"v":7.772e-12},{"s":"R","f":0.456,"v":4.103e-12},{"s":"R","f":0.462,"v":2.448e-12},{"s":"R","f":0.468,"v":1.134e-12},{"s":"R","f":0.474,"v":2.905e-13},{"s":"R","f":0.477,"v":7.32e-14},{"s":"R","f":0.4788,"v":1.171e-14},{"s":"R","f":0.48,"v":1e-16},
{"s":"R","f":0.4812,"v":1.171e-14},{"s":"R","f":0.483,"v":7.32e-14},{"s":"R","f":0.486,"v":2.905e-13},{"s":"R","f":0.492,"v":1.134e-12},{"s":"R","f":0.498,"v":2.448e-12},{"s":"R","f":0.504,"v":4.103e-12},{"s":"R","f":0.516,"v":7.772e-12},{"s":"R","f":0.528,"v":1.074e-11},{"s":"R","f":0.54,"v":1.1875e-11},{"s":"R","f":0.552,"v":1.074e-11},{"s":"R","f":0.564,"v":7.772e-12},{"s":"R","f":0.576,"v":4.103e-12},{"s":"R","f":0.582,"v":2.448e-12},{"s":"R","f":0.588,"v":1.134e-12},{"s":"R","f":0.594,"v":2.905e-13},{"s":"R","f":0.597,"v":7.32e-14},{"s":"R","f":0.5988,"v":1.171e-14},{"s":"R","f":0.6,"v":1e-16},
{"s":"R","f":0.6012,"v":1.171e-14},{"s":"R","f":0.603,"v":7.32e-14},{"s":"R","f":0.606,"v":2.905e-13},{"s":"R","f":0.612,"v":1.134e-12},{"s":"R","f":0.618,"v":2.448e-12},{"s":"R","f":0.624,"v":4.103e-12},{"s":"R","f":0.636,"v":7.772e-12},{"s":"R","f":0.648,"v":1.074e-11},{"s":"R","f":0.66,"v":1.1875e-11},{"s":"R","f":0.672,"v":1.074e-11},{"s":"R","f":0.684,"v":7.772e-12},{"s":"R","f":0.696,"v":4.103e-12},{"s":"R","f":0.702,"v":2.448e-12},{"s":"R","f":0.708,"v":1.134e-12},{"s":"R","f":0.714,"v":2.905e-13},{"s":"R","f":0.717,"v":7.32e-14},{"s":"R","f":0.7188,"v":1.171e-14},{"s":"R","f":0.72,"v":1e-16},
{"s":"R","f":0.7212,"v":1.171e-14},{"s":"R","f":0.723,"v":7.32e-14},{"s":"R","f":0.726,"v":2.905e-13},{"s":"R","f":0.732,"v":1.134e-12},{"s":"R","f":0.738,"v":2.448e-12},{"s":"R","f":0.744,"v":4.103e-12},{"s":"R","f":0.756,"v":7.772e-12},{"s":"R","f":0.768,"v":1.074e-11},{"s":"R","f":0.78,"v":1.1875e-11},{"s":"R","f":0.792,"v":1.074e-11},{"s":"R","f":0.804,"v":7.772e-12},{"s":"R","f":0.816,"v":4.103e-12},{"s":"R","f":0.822,"v":2.448e-12},{"s":"R","f":0.828,"v":1.134e-12},{"s":"R","f":0.834,"v":2.905e-13},{"s":"R","f":0.837,"v":7.32e-14},{"s":"R","f":0.8388,"v":1.171e-14},{"s":"R","f":0.84,"v":1e-16},
{"s":"R","f":0.8412,"v":1.171e-14},{"s":"R","f":0.843,"v":7.32e-14},{"s":"R","f":0.846,"v":2.905e-13},{"s":"R","f":0.852,"v":1.134e-12},{"s":"R","f":0.858,"v":2.448e-12},{"s":"R","f":0.864,"v":4.103e-12},{"s":"R","f":0.876,"v":7.772e-12},{"s":"R","f":0.888,"v":1.074e-11},{"s":"R","f":0.9,"v":1.1875e-11},{"s":"R","f":0.912,"v":1.074e-11},{"s":"R","f":0.924,"v":7.772e-12},{"s":"R","f":0.936,"v":4.103e-12},{"s":"R","f":0.942,"v":2.448e-12},{"s":"R","f":0.948,"v":1.134e-12},{"s":"R","f":0.954,"v":2.905e-13},{"s":"R","f":0.957,"v":7.32e-14},{"s":"R","f":0.9588,"v":1.171e-14},{"s":"R","f":0.96,"v":1e-16},
{"s":"R","f":0.9612,"v":1.171e-14},{"s":"R","f":0.963,"v":7.32e-14},{"s":"R","f":0.966,"v":2.905e-13},{"s":"R","f":0.972,"v":1.134e-12},{"s":"R","f":0.978,"v":2.448e-12},{"s":"R","f":0.984,"v":4.103e-12},{"s":"R","f":0.996,"v":7.772e-12},{"s":"R","f":1.0,"v":8.91e-12},

{"s":"M","f":2.5e-5,"v":3.06e-10},{"s":"M","f":3e-5,"v":2.55e-10},{"s":"M","f":5e-5,"v":1.529e-10},{"s":"M","f":7e-5,"v":1.092e-10},{"s":"M","f":1e-4,"v":7.64e-11},{"s":"M","f":1.5e-4,"v":5.1e-11},{"s":"M","f":2e-4,"v":3.82e-11},{"s":"M","f":3e-4,"v":2.55e-11},{"s":"M","f":4e-4,"v":1.913e-11},{"s":"M","f":5e-4,"v":1.532e-11},{"s":"M","f":7e-4,"v":1.1e-11},{"s":"M","f":1e-3,"v":7.88e-12},{"s":"M","f":1.3e-3,"v":6.38e-12},{"s":"M","f":1.6e-3,"v":5.67e-12},{"s":"M","f":2e-3,"v":5.4e-12},{"s":"M","f":2.5e-3,"v":5.67e-12},{"s":"M","f":3e-3,"v":6.27e-12},{"s":"M","f":4e-3,"v":7.87e-12},{"s":"M","f":5e-3,"v":9.65e-12},{"s":"M","f":7e-3,"v":1.335e-11},{"s":"M","f":0.01,"v":1.891e-11},{"s":"M","f":0.015,"v":2.79e-11},{"s":"M","f":0.02,"v":3.65e-11},
{"s":"M","f":0.025,"v":4.45e-11},{"s":"M","f":0.03,"v":5.16e-11},{"s":"M","f":0.035,"v":5.79e-11},{"s":"M","f":0.04,"v":6.32e-11},{"s":"M","f":0.045,"v":6.75e-11},{"s":"M","f":0.05,"v":7.05e-11},{"s":"M","f":0.055,"v":7.23e-11},{"s":"M","f":0.06,"v":7.3e-11},{"s":"M","f":0.065,"v":7.23e-11},{"s":"M","f":0.07,"v":7.05e-11},{"s":"M","f":0.075,"v":6.75e-11},{"s":"M","f":0.08,"v":6.32e-11},{"s":"M","f":0.085,"v":5.79e-11},{"s":"M","f":0.09,"v":5.16e-11},{"s":"M","f":0.095,"v":4.45e-11},{"s":"M","f":0.1,"v":3.65e-11},{"s":"M","f":0.105,"v":2.79e-11},{"s":"M","f":0.11,"v":1.89e-11},{"s":"M","f":0.113,"v":1.33e-11},{"s":"M","f":0.116,"v":7.62e-12},{"s":"M","f":0.118,"v":3.82e-12},{"s":"M","f":0.1188,"v":2.29e-12},{"s":"M","f":0.12,"v":1e-16},
{"s":"M","f":0.1212,"v":2.29e-12},{"s":"M","f":0.123,"v":5.73e-12},{"s":"M","f":0.126,"v":1.142e-11},{"s":"M","f":0.132,"v":2.256e-11},{"s":"M","f":0.138,"v":3.314e-11},{"s":"M","f":0.144,"v":4.29e-11},{"s":"M","f":0.156,"v":5.906e-11},{"s":"M","f":0.168,"v":6.943e-11},{"s":"M","f":0.18,"v":7.3e-11},{"s":"M","f":0.192,"v":6.943e-11},{"s":"M","f":0.204,"v":5.906e-11},{"s":"M","f":0.216,"v":4.29e-11},{"s":"M","f":0.222,"v":3.314e-11},{"s":"M","f":0.228,"v":2.256e-11},{"s":"M","f":0.234,"v":1.142e-11},{"s":"M","f":0.237,"v":5.73e-12},{"s":"M","f":0.2388,"v":2.29e-12},{"s":"M","f":0.24,"v":1e-16},
{"s":"M","f":0.2412,"v":2.29e-12},{"s":"M","f":0.243,"v":5.73e-12},{"s":"M","f":0.246,"v":1.142e-11},{"s":"M","f":0.252,"v":2.256e-11},{"s":"M","f":0.258,"v":3.314e-11},{"s":"M","f":0.264,"v":4.29e-11},{"s":"M","f":0.276,"v":5.906e-11},{"s":"M","f":0.288,"v":6.943e-11},{"s":"M","f":0.3,"v":7.3e-11},{"s":"M","f":0.312,"v":6.943e-11},{"s":"M","f":0.324,"v":5.906e-11},{"s":"M","f":0.336,"v":4.29e-11},{"s":"M","f":0.342,"v":3.314e-11},{"s":"M","f":0.348,"v":2.256e-11},{"s":"M","f":0.354,"v":1.142e-11},{"s":"M","f":0.357,"v":5.73e-12},{"s":"M","f":0.3588,"v":2.29e-12},{"s":"M","f":0.36,"v":1e-16},
{"s":"M","f":0.3612,"v":2.29e-12},{"s":"M","f":0.363,"v":5.73e-12},{"s":"M","f":0.366,"v":1.142e-11},{"s":"M","f":0.372,"v":2.256e-11},{"s":"M","f":0.378,"v":3.314e-11},{"s":"M","f":0.384,"v":4.29e-11},{"s":"M","f":0.396,"v":5.906e-11},{"s":"M","f":0.408,"v":6.943e-11},{"s":"M","f":0.42,"v":7.3e-11},{"s":"M","f":0.432,"v":6.943e-11},{"s":"M","f":0.444,"v":5.906e-11},{"s":"M","f":0.456,"v":4.29e-11},{"s":"M","f":0.462,"v":3.314e-11},{"s":"M","f":0.468,"v":2.256e-11},{"s":"M","f":0.474,"v":1.142e-11},{"s":"M","f":0.477,"v":5.73e-12},{"s":"M","f":0.4788,"v":2.29e-12},{"s":"M","f":0.48,"v":1e-16},
{"s":"M","f":0.4812,"v":2.29e-12},{"s":"M","f":0.483,"v":5.73e-12},{"s":"M","f":0.486,"v":1.142e-11},{"s":"M","f":0.492,"v":2.256e-11},{"s":"M","f":0.498,"v":3.314e-11},{"s":"M","f":0.504,"v":4.29e-11},{"s":"M","f":0.516,"v":5.906e-11},{"s":"M","f":0.528,"v":6.943e-11},{"s":"M","f":0.54,"v":7.3e-11},{"s":"M","f":0.552,"v":6.943e-11},{"s":"M","f":0.564,"v":5.906e-11},{"s":"M","f":0.576,"v":4.29e-11},{"s":"M","f":0.582,"v":3.314e-11},{"s":"M","f":0.588,"v":2.256e-11},{"s":"M","f":0.594,"v":1.142e-11},{"s":"M","f":0.597,"v":5.73e-12},{"s":"M","f":0.5988,"v":2.29e-12},{"s":"M","f":0.6,"v":1e-16},
{"s":"M","f":0.6012,"v":2.29e-12},{"s":"M","f":0.603,"v":5.73e-12},{"s":"M","f":0.606,"v":1.142e-11},{"s":"M","f":0.612,"v":2.256e-11},{"s":"M","f":0.618,"v":3.314e-11},{"s":"M","f":0.624,"v":4.29e-11},{"s":"M","f":0.636,"v":5.906e-11},{"s":"M","f":0.648,"v":6.943e-11},{"s":"M","f":0.66,"v":7.3e-11},{"s":"M","f":0.672,"v":6.943e-11},{"s":"M","f":0.684,"v":5.906e-11},{"s":"M","f":0.696,"v":4.29e-11},{"s":"M","f":0.702,"v":3.314e-11},{"s":"M","f":0.708,"v":2.256e-11},{"s":"M","f":0.714,"v":1.142e-11},{"s":"M","f":0.717,"v":5.73e-12},{"s":"M","f":0.7188,"v":2.29e-12},{"s":"M","f":0.72,"v":1e-16},
{"s":"M","f":0.7212,"v":2.29e-12},{"s":"M","f":0.723,"v":5.73e-12},{"s":"M","f":0.726,"v":1.142e-11},{"s":"M","f":0.732,"v":2.256e-11},{"s":"M","f":0.738,"v":3.314e-11},{"s":"M","f":0.744,"v":4.29e-11},{"s":"M","f":0.756,"v":5.906e-11},{"s":"M","f":0.768,"v":6.943e-11},{"s":"M","f":0.78,"v":7.3e-11},{"s":"M","f":0.792,"v":6.943e-11},{"s":"M","f":0.804,"v":5.906e-11},{"s":"M","f":0.816,"v":4.29e-11},{"s":"M","f":0.822,"v":3.314e-11},{"s":"M","f":0.828,"v":2.256e-11},{"s":"M","f":0.834,"v":1.142e-11},{"s":"M","f":0.837,"v":5.73e-12},{"s":"M","f":0.8388,"v":2.29e-12},{"s":"M","f":0.84,"v":1e-16},
{"s":"M","f":0.8412,"v":2.29e-12},{"s":"M","f":0.843,"v":5.73e-12},{"s":"M","f":0.846,"v":1.142e-11},{"s":"M","f":0.852,"v":2.256e-11},{"s":"M","f":0.858,"v":3.314e-11},{"s":"M","f":0.864,"v":4.29e-11},{"s":"M","f":0.876,"v":5.906e-11},{"s":"M","f":0.888,"v":6.943e-11},{"s":"M","f":0.9,"v":7.3e-11},{"s":"M","f":0.912,"v":6.943e-11},{"s":"M","f":0.924,"v":5.906e-11},{"s":"M","f":0.936,"v":4.29e-11},{"s":"M","f":0.942,"v":3.314e-11},{"s":"M","f":0.948,"v":2.256e-11},{"s":"M","f":0.954,"v":1.142e-11},{"s":"M","f":0.957,"v":5.73e-12},{"s":"M","f":0.9588,"v":2.29e-12},{"s":"M","f":0.96,"v":1e-16},
{"s":"M","f":0.9612,"v":2.29e-12},{"s":"M","f":0.963,"v":5.73e-12},{"s":"M","f":0.966,"v":1.142e-11},{"s":"M","f":0.972,"v":2.256e-11},{"s":"M","f":0.978,"v":3.314e-11},{"s":"M","f":0.984,"v":4.29e-11},{"s":"M","f":0.996,"v":5.906e-11},{"s":"M","f":1.0,"v":6.32e-11}
]},
"encoding":{
  "x":{"field":"f","type":"quantitative","scale":{"type":"log","domain":[2e-5,1],"nice":false},
   "axis":{"title":"f [Hz]","values":[2e-5,3e-5,4e-5,5e-5,6e-5,7e-5,8e-5,9e-5,1e-4,2e-4,3e-4,4e-4,5e-4,6e-4,7e-4,8e-4,9e-4,0.001,0.002,0.003,0.004,0.005,0.006,0.007,0.008,0.009,0.01,0.02,0.03,0.04,0.05,0.06,0.07,0.08,0.09,0.1,0.2,0.3,0.4,0.5,0.6,0.7,0.8,0.9,1],
    "labelExpr":"abs(log(datum.value)/LN10 - round(log(datum.value)/LN10)) > 0.01 ? '' : ['10⁻⁴','10⁻³','10⁻²','10⁻¹','10⁰'][round(log(datum.value)/LN10) + 4]",
    "tickSize":{"condition":{"test":"abs(log(datum.value)/LN10 - round(log(datum.value)/LN10)) < 0.01","value":20},"value":12},
    "gridOpacity":{"condition":{"test":"abs(log(datum.value)/LN10 - round(log(datum.value)/LN10)) < 0.01","value":1},"value":0},
    "grid":true,"labelAngle":0,"labelBaseline":"alphabetic","labelPadding":79,
    "titleX":1024,"titleY":188,"titleAlign":"center","titleBaseline":"alphabetic"}},
  "y":{"field":"v","type":"quantitative","scale":{"type":"log","domain":[1e-13,2.02e-10],"nice":false},
   "axis":{"title":"Sζ¹⁄² [m/√Hz]","values":[1e-13,2e-13,3e-13,4e-13,5e-13,6e-13,7e-13,8e-13,9e-13,1e-12,2e-12,3e-12,4e-12,5e-12,6e-12,7e-12,8e-12,9e-12,1e-11,2e-11,3e-11,4e-11,5e-11,6e-11,7e-11,8e-11,9e-11,1e-10,2e-10],
    "labelExpr":"abs(log(datum.value)/LN10 - round(log(datum.value)/LN10)) > 0.01 ? '' : ['10⁻¹³','10⁻¹²','10⁻¹¹','10⁻¹⁰'][round(log(datum.value)/LN10) + 13]",
    "tickSize":{"condition":{"test":"abs(log(datum.value)/LN10 - round(log(datum.value)/LN10)) < 0.01","value":20},"value":12},
    "gridOpacity":{"condition":{"test":"abs(log(datum.value)/LN10 - round(log(datum.value)/LN10)) < 0.01","value":1},"value":0},
    "grid":true,"labelBaseline":"middle","labelPadding":24,
    "titleX":-288,"titleY":670,"titleAngle":-90,"titleAlign":"center","titleBaseline":"middle"}},
  "color":{"field":"s","type":"nominal","scale":{"domain":["T","O","A","R","M"],"range":["#ffa500","#0020ff","#008000","#ff0000","#ff00ff"]},
   "legend":{"title":null,"orient":"none","legendX":26,"legendY":32,"labelExpr":"datum.label == 'T' ? 'Total noise LISA Instrument' : datum.label == 'O' ? 'OMS noise LISA Instrument' : datum.label == 'A' ? 'acc. noise LISA Instrument' : datum.label == 'R' ? 'acc. noise model' : 'OMS noise model'","symbolType":"M-2.5,0H7.5","symbolSize":475,"symbolStrokeWidth":7.5,"symbolFillColor":"transparent","labelOffset":89,"rowPadding":26.5,"padding":14,"fillColor":"rgba(255,255,255,0.8)","strokeColor":"#cccccc","cornerRadius":8,"labelFontSize":49,"labelFont":"DejaVu Sans","labelColor":"black","labelLimit":0}},
  "strokeDash":{"field":"s","type":"nominal","scale":{"domain":["T","O","A","R","M"],"range":[[1,0],[1,0],[1,0],[40,17],[40,17]]},
   "legend":{"title":null,"orient":"none","legendX":26,"legendY":32,"labelExpr":"datum.label == 'T' ? 'Total noise LISA Instrument' : datum.label == 'O' ? 'OMS noise LISA Instrument' : datum.label == 'A' ? 'acc. noise LISA Instrument' : datum.label == 'R' ? 'acc. noise model' : 'OMS noise model'","symbolType":"M-2.5,0H7.5","symbolSize":475,"symbolStrokeWidth":7.5,"symbolFillColor":"transparent","labelOffset":89,"rowPadding":26.5,"padding":14,"fillColor":"rgba(255,255,255,0.8)","strokeColor":"#cccccc","cornerRadius":8,"labelFontSize":49,"labelFont":"DejaVu Sans","labelColor":"black","labelLimit":0}}
},
"layer":[
  {"data":{"values":[{"f":2e-5,"f1":1e-4}]},"mark":{"type":"rect","opacity":0.25},
   "encoding":{"x2":{"field":"f1"},"y":{"datum":1e-13},"y2":{"datum":2.02e-10},"color":{"value":"#808080"},"strokeDash":{"value":[1,0]}}},
  {"transform":[{"filter":"datum.s === 'T' && datum.f < 0.0042"}],"mark":{"type":"line","strokeWidth":9,"strokeJoin":"round","clip":true}},
  {"transform":[{"filter":"datum.s === 'T' && datum.f >= 0.0038"}],"mark":{"type":"line","strokeWidth":12,"strokeJoin":"round","clip":true}},
  {"transform":[{"filter":"datum.s === 'O' && datum.f < 0.0042"}],"mark":{"type":"line","strokeWidth":9,"strokeJoin":"round","clip":true}},
  {"transform":[{"filter":"datum.s === 'O' && datum.f >= 0.0038"}],"mark":{"type":"line","strokeWidth":12,"strokeJoin":"round","clip":true}},
  {"transform":[{"filter":"datum.s === 'A' && datum.f < 0.0042"}],"mark":{"type":"line","strokeWidth":9,"strokeJoin":"round","clip":true}},
  {"transform":[{"filter":"datum.s === 'A' && datum.f >= 0.0038"}],"mark":{"type":"line","strokeWidth":12,"strokeJoin":"round","clip":true}},
  {"transform":[{"filter":"datum.s === 'R'"}],"mark":{"type":"line","strokeWidth":9.5,"strokeJoin":"round","clip":true}},
  {"transform":[{"filter":"datum.s === 'M'"}],"mark":{"type":"line","strokeWidth":9.5,"strokeJoin":"round","clip":true}}
]
}
